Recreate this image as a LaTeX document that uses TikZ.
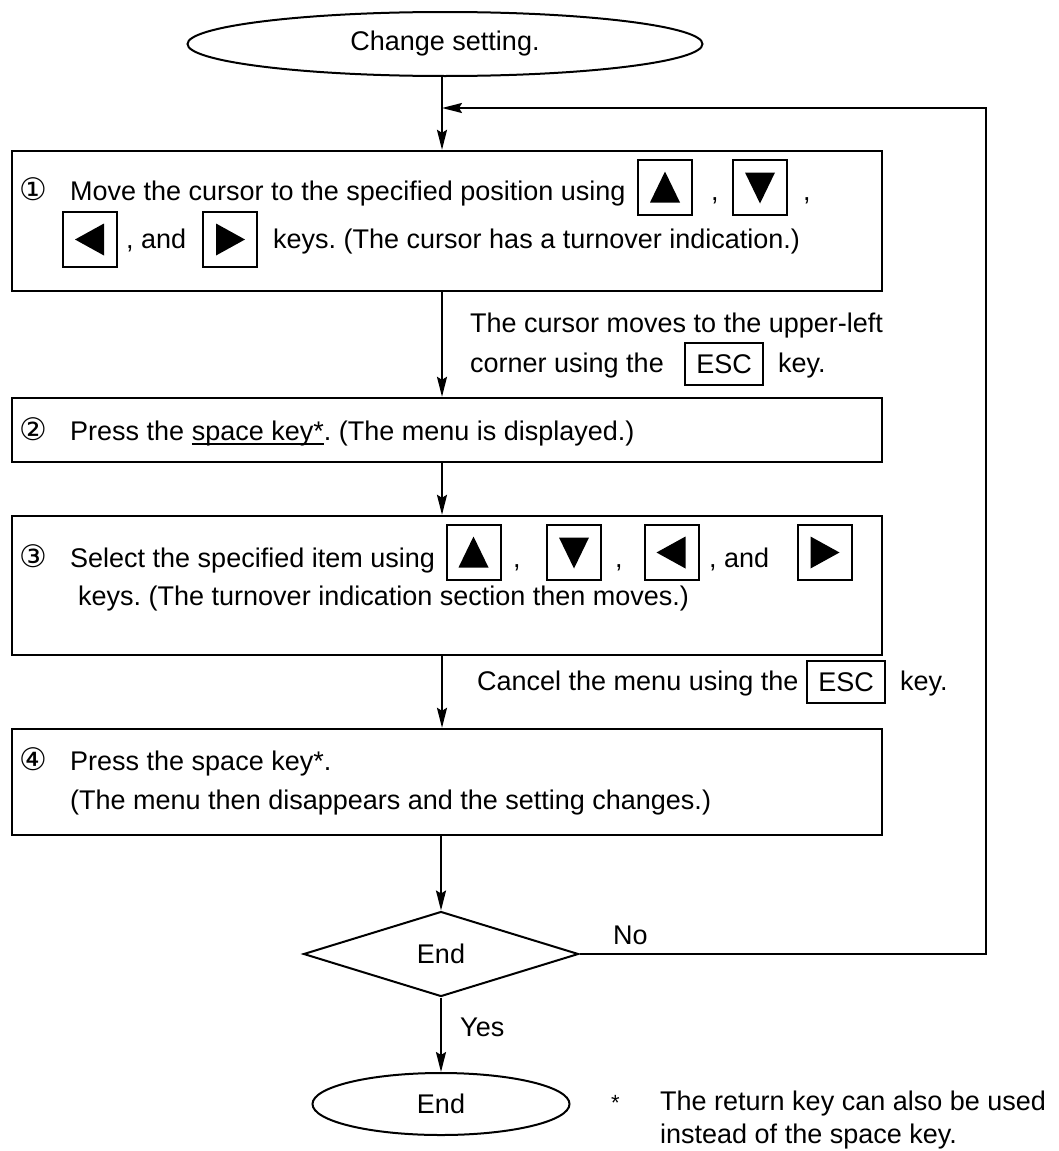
\documentclass[tikz,border=0pt]{standalone}
\usepackage{fontspec}
\setmainfont{Liberation Sans}
\newfontfamily\circfont{DejaVu Sans}
\usetikzlibrary{shapes.geometric,arrows.meta,calc}
\frenchspacing

% underline with a fixed drop below the baseline
\newcommand\ulin[1]{\setbox0\hbox{#1}\rlap{\rule[-5pt]{\wd0}{1.6pt}}\box0}

% key caps with a filled arrow triangle
\newcommand\keyU[2]{\node[keybox] (#1) at (#2) {};
  \fill ($(#1.center)+(-15,15)$) -- ($(#1.center)+(15,15)$) -- ($(#1.center)+(0,-16)$) -- cycle;}
\newcommand\keyD[2]{\node[keybox] (#1) at (#2) {};
  \fill ($(#1.center)+(-15,-15)$) -- ($(#1.center)+(15,-15)$) -- ($(#1.center)+(0,16)$) -- cycle;}
\newcommand\keyL[2]{\node[keybox] (#1) at (#2) {};
  \fill ($(#1.center)+(14,-16)$) -- ($(#1.center)+(14,16)$) -- ($(#1.center)+(-15,0)$) -- cycle;}
\newcommand\keyR[2]{\node[keybox] (#1) at (#2) {};
  \fill ($(#1.center)+(-14,-16)$) -- ($(#1.center)+(-14,16)$) -- ($(#1.center)+(15,0)$) -- cycle;}

\begin{document}
\begin{tikzpicture}[x=1pt,y=-1pt,
  every node/.style={font=\fontsize{27}{32}\selectfont, inner sep=0pt},
  frame/.style={draw, line width=2.4pt, minimum width=870pt},
  term/.style={draw, ellipse, line width=2pt},
  decide/.style={draw, diamond, line width=2pt},
  keybox/.style={draw, line width=2pt, minimum width=54pt, minimum height=55pt},
  esckey/.style={draw, line width=2pt, minimum width=78pt, minimum height=42pt},
  txt/.style={anchor=base west},
  num/.style={anchor=base west, font=\fontsize{31}{34}\selectfont\circfont},
  flow/.style={line width=2pt, -{Stealth[length=20pt,width=10pt,inset=3pt]}},
]
\useasboundingbox (0,0) rectangle (1059,1151);

% start
\node[term, minimum width=515pt, minimum height=64pt] (start) at (445,44) {Change setting.};

% step 1
\node[frame, minimum height=140pt] (s1) at (447,221) {};
\node[num] (n1) at (19,200) {①};
\node[txt] (t1a) at (70,200) {Move the cursor to the specified position using};
\keyU{k1u}{665,187.5}
\node[txt] (c1a) at (711,200) {,};
\keyD{k1d}{760,187.5}
\node[txt] (c1b) at (803,200) {,};
\keyL{k1l}{90,239.5}
\node[txt] (c1c) at (126,248) {, and};
\keyR{k1r}{230,239.5}
\node[txt] (t1b) at (273,248) {keys. (The cursor has a turnover indication.)};

% note between step 1 and step 2
\node[txt] (l1a) at (470,332) {The cursor moves to the upper-left};
\node[txt] (l1b) at (470,372) {corner using the};
\node[esckey] (esc1) at (724,364) {ESC};
\node[txt] (l1c) at (778,372) {key.};

% step 2
\node[frame, minimum height=64pt] (s2) at (447,430) {};
\node[num] (n2) at (19,440) {②};
\node[txt] (t2) at (70,440) {Press the \ulin{space key*}. (The menu is displayed.)};

% step 3
\node[frame, minimum height=139pt] (s3) at (447,585.5) {};
\node[num] (n3) at (19,567) {③};
\node[txt] (t3a) at (70,567) {Select the specified item using};
\keyU{k3u}{473.5,552.5}
\node[txt] (c3a) at (513,567) {,};
\keyD{k3d}{574,552.5}
\node[txt] (c3b) at (615,567) {,};
\keyL{k3l}{671.5,552.5}
\node[txt] (c3c) at (709,567) {, and};
\keyR{k3r}{824.5,552.5}
\node[txt] (t3b) at (78,605) {keys. (The turnover indication section then moves.)};

% note between step 3 and step 4
\node[txt] (l2a) at (477,690) {Cancel the menu using the};
\node[esckey] (esc2) at (846,682) {ESC};
\node[txt] (l2b) at (900,690) {key.};

% step 4
\node[frame, minimum height=106pt] (s4) at (447,782) {};
\node[num] (n4) at (19,770) {④};
\node[txt] (t4a) at (70,770) {Press the space key*.};
\node[txt] (t4b) at (70,809) {(The menu then disappears and the setting changes.)};

% decision and end
\node[decide, minimum width=275pt, minimum height=85pt] (dec) at (441,954) {End};
\node[term, minimum width=257pt, minimum height=62pt] (stop) at (441,1104) {End};
\node[txt] (no) at (613,944) {No};
\node[txt] (yes) at (460,1036) {Yes};

% footnote
\node[txt, font=\fontsize{22}{26}\selectfont] (star) at (611,1110) {*};
\node[txt] (fn1) at (660,1110) {The return key can also be used};
\node[txt] (fn2) at (660,1143) {instead of the space key.};

% connectors
\coordinate (trunk) at (442,108);
\coordinate (loopT) at (986,108);
\coordinate (loopB) at (986,954);
\draw[flow] (start.south -| trunk) -- (s1.north -| trunk);
\draw[flow] (s1.south -| trunk) -- (s2.north -| trunk);
\draw[flow] (s2.south -| trunk) -- (s3.north -| trunk);
\draw[flow] (s3.south -| trunk) -- (s4.north -| trunk);
\draw[flow] (s4.south -| dec.north) -- (dec.north);
\draw[flow] (dec.south) -- (stop.north);
\draw[flow] (dec.east) -- (loopB) -- (loopT) -- (trunk);
\end{tikzpicture}
\end{document}
